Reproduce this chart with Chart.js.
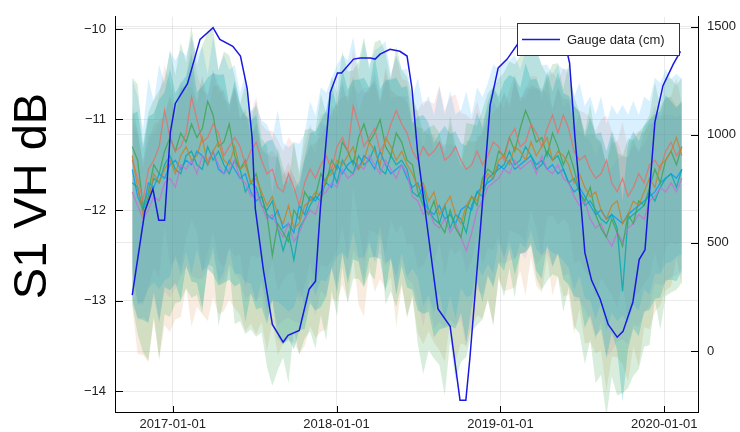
<!DOCTYPE html>
<html>
<head>
<meta charset="utf-8">
<script src="https://cdn.jsdelivr.net/npm/chart.js@4.4.0/dist/chart.umd.min.js"></script>
<style>
  html, body { margin: 0; padding: 0; background: #fff; }
  #wrap { width: 740px; height: 432px; }
</style>
</head>
<body>
<div id="wrap"><canvas id="chart" width="740" height="432"></canvas></div>
<script>
// Sentinel-1 acquisitions, one every 12 days
const s1Start = '2016-10-03';
const s1StepDays = 12;

// S1 VH backscatter (dB), one array per series
const s1Red = [-11.45,-11.65,-11.90,-11.55,-11.45,-11.30,-10.90,-11.20,-11.35,-11.30,
  -11.15,-10.75,-11.00,-11.25,-11.20,-11.05,-11.15,-11.40,-11.30,-11.20,
  -11.30,-11.50,-11.35,-11.25,-11.45,-11.60,-11.55,-11.75,-11.80,-11.60,
  -11.75,-11.95,-11.70,-11.55,-11.65,-11.50,-11.40,-11.55,-11.30,-11.20,
  -11.35,-10.85,-11.05,-11.30,-11.20,-11.10,-11.35,-11.25,-11.05,-10.90,
  -11.05,-11.15,-11.35,-11.45,-11.30,-11.40,-11.35,-11.25,-11.45,-11.40,
  -11.30,-11.45,-11.55,-11.50,-11.35,-11.50,-11.40,-11.25,-11.30,-11.45,
  -11.20,-11.10,-11.30,-11.25,-11.05,-11.15,-11.30,-11.10,-10.95,-11.15,
  -10.95,-11.10,-11.35,-11.45,-11.40,-11.55,-11.65,-11.60,-11.45,-11.70,
  -11.80,-11.65,-11.85,-11.75,-11.60,-11.70,-11.50,-11.45,-11.55,-11.35,
  -11.25,-11.40,-11.30];
const s1Orange = [-11.40,-11.75,-12.05,-11.90,-11.60,-11.70,-11.55,-11.45,-11.60,-11.40,
  -11.30,-11.45,-11.40,-11.20,-11.50,-11.35,-11.25,-11.45,-11.50,-11.30,
  -11.55,-11.50,-11.70,-11.65,-11.80,-11.95,-11.85,-12.05,-12.15,-11.95,
  -12.20,-12.15,-11.95,-11.90,-11.80,-11.85,-11.65,-11.60,-11.45,-11.50,
  -11.40,-11.30,-11.55,-11.45,-11.25,-11.35,-11.50,-11.20,-11.30,-11.45,
  -11.35,-11.50,-11.60,-11.75,-11.70,-11.90,-11.80,-12.05,-11.95,-11.85,
  -12.05,-12.15,-11.95,-11.85,-11.90,-11.70,-11.60,-11.65,-11.45,-11.40,
  -11.50,-11.30,-11.35,-11.45,-11.25,-11.40,-11.30,-11.20,-11.45,-11.35,
  -11.40,-11.50,-11.70,-11.60,-11.75,-11.85,-11.80,-12.00,-12.10,-11.95,
  -11.90,-12.15,-12.05,-11.90,-11.95,-11.80,-11.65,-11.75,-11.50,-11.45,
  -11.35,-11.20,-11.40];
const s1Green = [-11.30,-11.45,-11.95,-11.80,-11.50,-11.60,-11.35,-11.20,-11.35,-11.15,
  -11.25,-11.05,-11.20,-11.10,-10.80,-10.95,-11.30,-11.25,-11.05,-11.40,
  -11.55,-11.45,-11.70,-11.60,-11.85,-12.05,-12.50,-12.15,-12.25,-12.35,
  -12.00,-12.10,-11.80,-11.90,-11.85,-11.60,-11.70,-11.45,-11.55,-11.25,
  -11.35,-11.50,-11.20,-11.05,-11.25,-11.15,-11.00,-11.30,-11.40,-11.15,
  -11.25,-11.45,-11.50,-11.80,-11.95,-12.05,-11.90,-12.15,-12.25,-12.00,
  -12.20,-12.30,-12.00,-11.85,-11.95,-11.65,-11.55,-11.60,-11.35,-11.40,
  -11.20,-11.35,-11.10,-10.90,-11.05,-11.25,-11.20,-11.40,-11.15,-11.30,
  -11.50,-11.35,-11.55,-11.80,-11.90,-11.75,-12.05,-12.20,-12.30,-12.10,
  -12.25,-12.40,-12.05,-12.15,-11.90,-11.95,-11.75,-11.55,-11.70,-11.45,
  -11.35,-11.50,-11.30];
const s1Purple = [-11.80,-11.95,-12.10,-12.00,-11.85,-11.90,-11.70,-11.65,-11.75,-11.50,
  -11.55,-11.45,-11.60,-11.40,-11.45,-11.35,-11.50,-11.60,-11.55,-11.45,
  -11.65,-11.70,-11.85,-11.80,-11.95,-12.10,-12.05,-12.20,-12.30,-12.15,
  -12.35,-12.25,-12.10,-12.00,-12.05,-11.85,-11.80,-11.70,-11.75,-11.55,
  -11.65,-11.60,-11.50,-11.55,-11.40,-11.50,-11.60,-11.45,-11.55,-11.65,
  -11.50,-11.60,-11.85,-11.90,-12.05,-12.00,-12.15,-12.20,-12.10,-12.25,
  -12.15,-12.30,-12.45,-12.25,-12.00,-11.90,-11.75,-11.70,-11.65,-11.55,
  -11.60,-11.45,-11.55,-11.50,-11.45,-11.60,-11.40,-11.55,-11.60,-11.50,
  -11.65,-11.70,-11.85,-11.95,-11.90,-12.10,-12.20,-12.15,-12.30,-12.40,
  -12.25,-12.35,-12.20,-12.15,-12.05,-12.10,-11.90,-11.85,-11.75,-11.80,
  -11.70,-11.80,-11.65];
const s1Teal = [-11.70,-11.75,-12.00,-11.85,-11.65,-11.70,-11.50,-11.40,-11.55,-11.60,
  -11.40,-11.35,-11.50,-11.55,-11.30,-11.45,-11.35,-11.50,-11.60,-11.45,
  -11.55,-11.80,-11.70,-11.75,-11.95,-12.00,-11.90,-12.20,-12.45,-12.25,
  -12.55,-12.20,-12.10,-11.95,-11.85,-11.90,-11.65,-11.55,-11.70,-11.45,
  -11.55,-11.60,-11.40,-11.50,-11.45,-11.30,-11.55,-11.60,-11.40,-11.50,
  -11.45,-11.55,-11.80,-11.85,-11.75,-12.00,-12.10,-12.15,-11.95,-12.20,
  -12.05,-12.10,-12.25,-11.95,-11.80,-11.85,-11.65,-11.60,-11.55,-11.50,
  -11.35,-11.50,-11.45,-11.30,-11.40,-11.55,-11.50,-11.35,-11.45,-11.40,
  -11.55,-11.70,-11.65,-11.80,-11.95,-11.90,-12.00,-12.10,-12.15,-12.05,
  -12.20,-12.90,-12.10,-12.05,-12.00,-11.95,-11.80,-11.90,-11.75,-11.65,
  -11.60,-11.75,-11.55];
const s1Blue = [-11.55,-11.85,-12.00,-11.70,-11.75,-11.60,-11.65,-11.50,-11.45,-11.55,
  -11.45,-11.50,-11.35,-11.40,-11.50,-11.35,-11.55,-11.60,-11.45,-11.55,
  -11.65,-11.60,-11.80,-11.90,-11.85,-12.05,-12.10,-12.00,-12.20,-12.15,
  -12.25,-11.95,-12.05,-11.85,-11.90,-11.80,-11.70,-11.75,-11.50,-11.60,
  -11.50,-11.45,-11.55,-11.40,-11.45,-11.55,-11.35,-11.50,-11.60,-11.55,
  -11.50,-11.65,-11.75,-11.70,-11.90,-12.00,-12.05,-11.95,-12.10,-12.05,
  -12.15,-12.00,-11.95,-12.00,-11.80,-11.75,-11.70,-11.65,-11.50,-11.55,
  -11.45,-11.55,-11.50,-11.45,-11.40,-11.50,-11.45,-11.55,-11.50,-11.60,
  -11.55,-11.70,-11.80,-11.75,-11.85,-11.95,-12.05,-12.00,-12.10,-12.05,
  -12.10,-12.15,-12.05,-12.00,-11.95,-11.90,-11.85,-11.80,-11.70,-11.65,
  -11.60,-11.65,-11.55];

// spread of each acquisition (dB above / below the series value)
const bandUp = [0.95,1.05,0.85,1.10,0.90,1.15,1.00,1.20,1.05,1.25,
  1.10,1.35,1.00,1.15,0.95,1.20,1.05,1.25,0.95,1.10,
  0.90,1.05,0.85,1.00,0.80,0.95,0.85,1.05,0.90,0.80,
  0.95,0.65,0.85,1.00,0.90,1.10,0.95,1.15,1.05,1.25,
  1.10,1.30,1.05,1.20,1.00,1.25,1.10,1.30,1.05,1.20,
  1.00,1.15,0.95,1.10,1.00,1.20,1.05,1.25,1.10,1.30,
  1.15,1.05,1.20,1.00,1.10,0.95,1.05,1.20,1.00,1.15,
  1.05,1.20,1.00,1.15,1.05,1.25,1.00,1.10,0.95,1.15,
  1.05,1.20,1.00,1.10,0.95,1.15,1.05,1.20,1.00,1.15,
  1.10,1.25,1.05,1.15,0.95,1.10,1.00,1.20,1.05,1.15,
  1.00,1.10,0.95];
const bandDown = [1.45,1.60,1.35,1.55,1.40,1.70,1.50,1.65,1.40,1.55,
  1.35,1.60,1.45,1.70,1.50,1.40,1.65,1.45,1.30,1.55,
  1.40,1.60,1.35,1.50,1.25,1.40,1.20,1.35,1.15,1.30,
  1.10,1.25,1.35,1.20,1.40,1.30,1.45,1.20,1.35,1.15,
  1.40,1.05,1.30,1.50,1.20,1.35,1.10,1.45,1.25,1.60,
  1.30,1.45,1.20,1.40,1.55,1.25,1.45,1.30,1.50,1.20,
  1.40,1.15,1.35,1.25,1.10,1.30,1.20,1.40,1.15,1.30,
  1.20,1.35,1.15,1.30,1.10,1.25,1.40,1.15,1.30,1.20,
  1.35,1.25,1.45,1.30,1.50,1.40,1.55,1.35,1.65,1.45,
  1.50,1.35,1.60,1.40,1.55,1.30,1.45,1.20,1.35,1.25,
  1.30,1.15,1.25];
const bandScaleUp = [0.50, 0.60, 0.80, 0.75, 0.80, 1.05];
const bandScaleDown = [0.85, 1.15, 1.20, 0.80, 0.90, 0.75];

// river gauge (cm), right axis
const gaugeDates = ['2016-10-03','2016-10-31','2016-11-18','2016-12-01','2016-12-14','2016-12-27',
  '2017-01-07','2017-02-03','2017-03-03','2017-04-01','2017-04-16','2017-05-15','2017-06-01',
  '2017-06-16','2017-06-27','2017-07-04','2017-07-22','2017-08-11','2017-09-04','2017-09-15',
  '2017-10-10','2017-11-01','2017-11-15','2017-11-26','2017-12-18','2018-01-03','2018-01-12',
  '2018-02-08','2018-02-23','2018-03-17','2018-03-28','2018-04-08','2018-04-30','2018-05-22',
  '2018-06-07','2018-06-18','2018-07-01','2018-07-21','2018-08-15','2018-09-11','2018-10-03',
  '2018-10-16','2018-10-25','2018-11-21','2018-12-09','2018-12-27','2019-01-16','2019-02-08',
  '2019-03-07','2019-03-29','2019-04-25','2019-05-24','2019-06-04','2019-06-16','2019-07-01',
  '2019-07-08','2019-07-23','2019-08-11','2019-08-29','2019-09-18','2019-10-01','2019-10-23',
  '2019-11-06','2019-11-19','2019-11-26','2019-12-11','2019-12-29','2020-01-21','2020-02-06'];
const gaugeValues = [259,645,750,605,605,1014,
  1145,1236,1441,1495,1441,1409,1364,
  1214,986,659,377,123,41,73,
  95,286,323,659,1195,1286,1286,
  1350,1355,1355,1350,1373,1395,1386,
  1364,1214,909,591,195,114,-227,
  -227,-32,659,1136,1309,1350,1418,
  1468,1491,1482,1432,1332,986,636,
  455,327,241,123,64,91,227,
  423,468,659,1059,1227,1327,1386];

// axes
const xTickDates = ['2017-01-01','2018-01-01','2019-01-01','2020-01-01'];
const yTicks = [-14, -13, -12, -11, -10];
const y2Ticks = [0, 500, 1000, 1500];

const seriesValues = [s1Red, s1Orange, s1Green, s1Purple, s1Teal, s1Blue];
const seriesColors = ['#E4706C', '#C98226', '#3DA44D', '#C371D2', '#00A9AD', '#009AF9'];
const fillAlpha = [0.15, 0.15, 0.20, 0.12, 0.25, 0.15];
// fills: orange, red, purple, green, blue, teal (last = on top)
const fillOrder = [55, 60, 45, 50, 35, 40];
const lineOrder = [16, 15, 17, 18, 19, 20];

const T0 = Date.UTC(2017, 0, 1);
const toDays = s => (Date.parse(s + 'T00:00:00Z') - T0) / 86400000;
const s1Days = s1Red.map((_, i) => toDays(s1Start) + i * s1StepDays);

function rgba(hex, a) {
  const n = parseInt(hex.slice(1), 16);
  return `rgba(${n >> 16},${(n >> 8) & 255},${n & 255},${a})`;
}

const datasets = [];
seriesValues.forEach((vals, k) => {
  datasets.push({
    data: vals.map((v, i) => ({ x: s1Days[i], y: v + bandScaleUp[k] * bandUp[i] })),
    yAxisID: 'y', fill: '+1', backgroundColor: rgba(seriesColors[k], fillAlpha[k]),
    borderWidth: 0, borderColor: 'transparent', pointRadius: 0, order: fillOrder[k]
  });
  datasets.push({
    data: vals.map((v, i) => ({ x: s1Days[i], y: v - bandScaleDown[k] * bandDown[i] })),
    yAxisID: 'y', fill: false, borderWidth: 0, borderColor: 'transparent',
    pointRadius: 0, order: fillOrder[k]
  });
});
seriesValues.forEach((vals, k) => {
  datasets.push({
    data: vals.map((v, i) => ({ x: s1Days[i], y: v })),
    yAxisID: 'y', fill: false, borderColor: rgba(seriesColors[k], 0.8),
    borderWidth: 1.3, pointRadius: 0, order: lineOrder[k]
  });
});
datasets.push({
  label: 'Gauge data (cm)',
  data: gaugeValues.map((v, i) => ({ x: toDays(gaugeDates[i]), y: v })),
  yAxisID: 'y2', fill: false, borderColor: 'rgb(25,25,225)', borderWidth: 1.5,
  pointRadius: 0, order: 0
});

const FONT = '"Liberation Sans", Arial, sans-serif';

// inward ticks, legend box and the big axis title
const decor = {
  id: 'decor',
  afterDraw(chart) {
    const { ctx, chartArea: a, scales } = chart;
    ctx.save();
    ctx.strokeStyle = '#000';
    ctx.lineWidth = 1;
    ctx.beginPath();
    scales.y.ticks.forEach(t => {
      const py = Math.round(scales.y.getPixelForValue(t.value)) + 0.5;
      ctx.moveTo(a.left, py); ctx.lineTo(a.left + 8, py);
    });
    scales.y2.ticks.forEach(t => {
      const py = Math.round(scales.y2.getPixelForValue(t.value)) + 0.5;
      ctx.moveTo(a.right, py); ctx.lineTo(a.right - 7, py);
    });
    scales.x.ticks.forEach(t => {
      const px = Math.round(scales.x.getPixelForValue(t.value)) + 0.5;
      ctx.moveTo(px, a.bottom); ctx.lineTo(px, a.bottom - 6);
    });
    ctx.stroke();

    // legend
    ctx.fillStyle = '#fff';
    ctx.fillRect(517, 23, 163, 33);
    ctx.strokeStyle = '#333';
    ctx.strokeRect(517.5, 23.5, 162, 32);
    ctx.strokeStyle = 'rgb(25,25,225)';
    ctx.lineWidth = 1.5;
    ctx.beginPath(); ctx.moveTo(522, 39.5); ctx.lineTo(560, 39.5); ctx.stroke();
    ctx.fillStyle = '#222';
    ctx.font = '13px ' + FONT;
    ctx.textBaseline = 'middle';
    ctx.textAlign = 'left';
    ctx.fillText('Gauge data (cm)', 567, 40);

    // y title
    ctx.translate(33, 196);
    ctx.rotate(-Math.PI / 2);
    ctx.fillStyle = '#000';
    ctx.font = '47px ' + FONT;
    ctx.textAlign = 'center';
    ctx.fillText('S1 VH dB', 0, 0);
    ctx.restore();
  }
};

const gridColor = 'rgba(0,0,0,0.08)';
const tickFont = { family: FONT, size: 13 };

new Chart(document.getElementById('chart'), {
  type: 'line',
  data: { datasets },
  plugins: [decor],
  options: {
    responsive: false,
    animation: false,
    events: [],
    layout: { padding: { top: 10, left: 0, right: 0, bottom: 0 } },
    elements: { line: { tension: 0 } },
    plugins: {
      legend: { display: false },
      tooltip: { enabled: false },
      filler: { drawTime: 'beforeDatasetsDraw', propagate: false }
    },
    scales: {
      x: {
        type: 'linear', min: -128.4, max: 1170,
        afterBuildTicks: s => { s.ticks = xTickDates.map(d => ({ value: toDays(d) })); },
        afterFit: s => { s.height = 20; },
        ticks: { callback: (v, i) => xTickDates[i], font: tickFont, color: '#222', padding: 5, maxRotation: 0 },
        grid: { color: gridColor, drawTicks: false },
        border: { display: true, color: '#000', width: 1 }
      },
      y: {
        position: 'left', min: -14.231, max: -9.866,
        afterBuildTicks: s => { s.ticks = yTicks.map(v => ({ value: v })); },
        afterFit: s => { s.width = 115; },
        ticks: { callback: v => (v < 0 ? '\u2212' : '') + Math.abs(v), font: tickFont, color: '#222', padding: 9 },
        grid: { color: gridColor, drawTicks: false },
        border: { display: true, color: '#000', width: 1 }
      },
      y2: {
        position: 'right', min: -281.8, max: 1545.5,
        afterBuildTicks: s => { s.ticks = y2Ticks.map(v => ({ value: v })); },
        afterFit: s => { s.width = 42; },
        ticks: { callback: v => String(v), font: tickFont, color: '#222', padding: 9 },
        grid: { color: gridColor, drawTicks: false },
        border: { display: true, color: '#000', width: 1 }
      }
    }
  }
});
</script>
</body>
</html>
